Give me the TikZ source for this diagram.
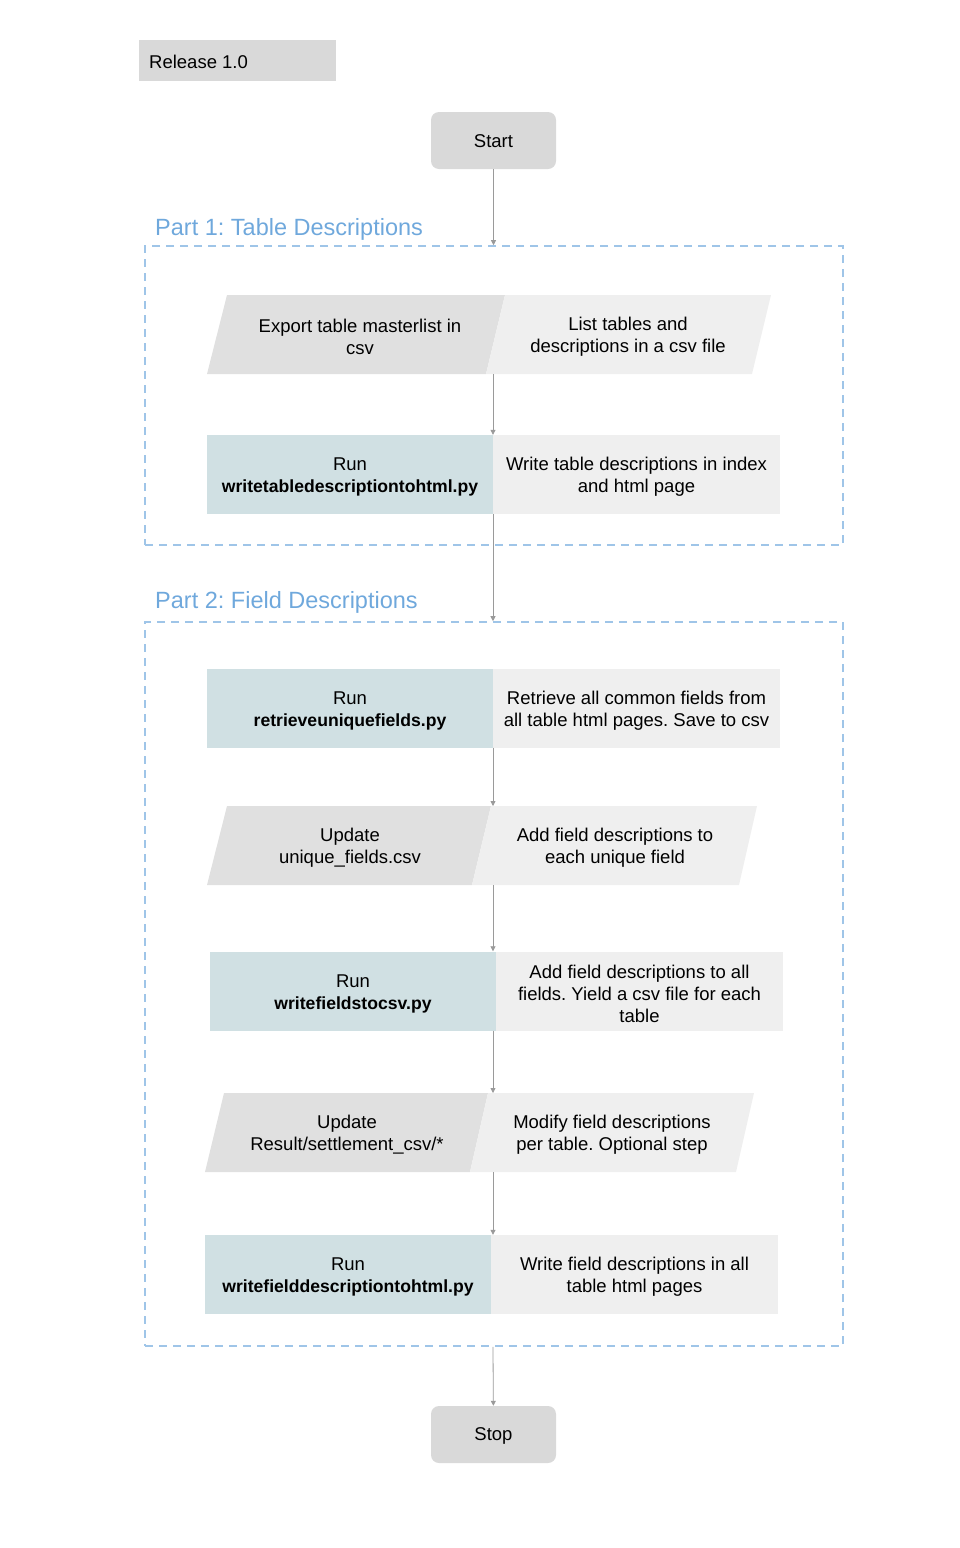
\documentclass[tikz,border=0pt]{standalone}
\usepackage{fontspec}
\setmainfont{Liberation Sans}
\frenchspacing
\usetikzlibrary{arrows.meta}
\definecolor{boxgray}{HTML}{D9D9D9}
\definecolor{pargray}{HTML}{E0E0E0}
\definecolor{notegray}{HTML}{EFEFEF}
\definecolor{runblue}{HTML}{D0E0E3}
\definecolor{titleblue}{HTML}{6FA8DC}
\definecolor{dashblue}{HTML}{9FC5E8}
\definecolor{arrgray}{HTML}{9A9A9A}
\newcommand{\pyname}[1]{{\fontsize{17.6}{22}\selectfont\bfseries #1}}

\begin{document}
\begin{tikzpicture}[x=1pt,y=-1pt,
    txt/.style={align=center,inner sep=0pt,font=\fontsize{18.5}{22}\selectfont},
    runbox/.style={fill=runblue,inner sep=0pt,minimum width=286pt,minimum height=79pt},
    notebox/.style={fill=notegray,inner sep=0pt,minimum width=287pt,minimum height=79pt},
    endbox/.style={fill=boxgray,rounded corners=8pt,inner sep=0pt,minimum width=125pt,minimum height=57pt},
    parttitle/.style={anchor=base west,inner sep=0pt,text=titleblue,font=\fontsize{23.5}{28}\selectfont},
    partbox/.style={draw=dashblue,line width=1.6pt,dash pattern=on 8pt off 6pt,inner sep=0pt},
    arr/.style={draw=arrgray,line width=0.8pt,-{Triangle[length=5pt,width=5pt]}}]
    \useasboundingbox (0,0) rectangle (959,1548);

    % release tag and start
    \node (release) at (237.5,60.5) [fill=boxgray,inner sep=0pt,minimum width=197pt,minimum height=41pt] {};
    \node (reltxt) at (149,61.5) [txt,anchor=west] {Release 1.0};
    \node (start) at (493.5,140.5) [endbox] {};
    \node (starttxt) at (493.5,141.5) [txt] {Start};

    % part 1
    \node (t1) at (155,235) [parttitle] {Part 1: Table Descriptions};
    \node (part1) at (494,395.5) [partbox,minimum width=698pt,minimum height=299pt] {};
    \fill[pargray] (227,295) -- (505,295) -- (486,374) -- (207,374) -- cycle;
    \fill[notegray] (505,295) -- (771,295) -- (752,374) -- (486,374) -- cycle;
    \coordinate (r1) at (493,374);
    \node (export) at (360,337) [txt] {Export table masterlist in\\csv};
    \node (listtab) at (628,337) [txt] {List tables and\\descriptions in a csv file};
    \node (run1) at (350,474.5) [runbox] {};
    \node (note1) at (636.5,474.5) [notebox] {};
    \node (run1txt) at (350,477) [txt] {Run\\\pyname{writetabledescriptiontohtml.py}};
    \node (note1txt) at (636.5,477) [txt] {Write table descriptions in index\\and html page};

    % part 2
    \node (t2) at (155,608) [parttitle] {Part 2: Field Descriptions};
    \node (part2) at (494,984) [partbox,minimum width=698pt,minimum height=724pt] {};
    \node (run2) at (350,708) [runbox] {};
    \node (note2) at (636.5,708) [notebox] {};
    \node (run2txt) at (350,710.5) [txt] {Run\\\pyname{retrieveuniquefields.py}};
    \node (note2txt) at (636.5,710.5) [txt] {Retrieve all common fields from\\all table html pages. Save to csv};

    \fill[pargray] (227,806) -- (491,806) -- (472,885) -- (207,885) -- cycle;
    \fill[notegray] (491,806) -- (757,806) -- (739,885) -- (472,885) -- cycle;
    \coordinate (r4t) at (493,806);
    \coordinate (r4) at (493,885);
    \node (upd1) at (350,848) [txt] {Update\\unique\_fields.csv};
    \node (addf) at (615,848) [txt] {Add field descriptions to\\each unique field};

    \node (run3) at (353,991) [runbox] {};
    \node (note3) at (639.5,991) [notebox] {};
    \node (run3txt) at (353,993.5) [txt] {Run\\\pyname{writefieldstocsv.py}};
    \node (note3txt) at (639.5,993.5) [txt] {Add field descriptions to all\\fields. Yield a csv file for each\\table};

    \fill[pargray] (224,1093) -- (488,1093) -- (470,1172) -- (205,1172) -- cycle;
    \fill[notegray] (488,1093) -- (754,1093) -- (736,1172) -- (470,1172) -- cycle;
    \coordinate (r6t) at (493,1093);
    \coordinate (r6) at (493,1172);
    \node (upd2) at (347,1135) [txt] {Update\\Result/settlement\_csv/*};
    \node (modf) at (612,1135) [txt] {Modify field descriptions\\per table. Optional step};

    \node (run4) at (348,1274.5) [runbox] {};
    \node (note4) at (634.5,1274.5) [notebox] {};
    \node (run4txt) at (348,1277) [txt] {Run\\\pyname{writefielddescriptiontohtml.py}};
    \node (note4txt) at (634.5,1277) [txt] {Write field descriptions in all\\table html pages};

    \node (stop) at (493.5,1434.5) [endbox] {};
    \node (stoptxt) at (493.5,1435.5) [txt] {Stop};

    % connectors
    \draw[arr] (start) -- (start |- part1.north);
    \draw[arr] (r1) -- (r1 |- run1.north);
    \draw[arr] (r1 |- run1.south) -- (r1 |- part2.north);
    \draw[arr] (r1 |- run2.south) -- (r4t);
    \draw[arr] (r4) -- (r4 |- run3.north);
    \draw[arr] (r4 |- run3.south) -- (r6t);
    \draw[arr] (r6) -- (r6 |- run4.north);
    \draw[arr] (r6 |- part2.south) -- (stop);
\end{tikzpicture}
\end{document}
